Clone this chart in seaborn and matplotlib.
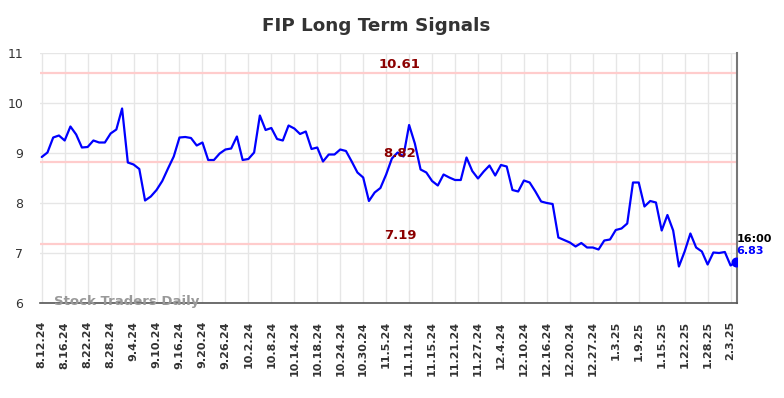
import matplotlib
matplotlib.use("Agg")
import matplotlib.pyplot as plt
import seaborn as sns
import numpy as np
import pandas as pd

# ---- data ----
tick_labels = ["8.12.24", "8.16.24", "8.22.24", "8.28.24", "9.4.24", "9.10.24", "9.16.24",
               "9.20.24", "9.26.24", "10.2.24", "10.8.24", "10.14.24", "10.18.24", "10.24.24",
               "10.30.24", "11.5.24", "11.11.24", "11.15.24", "11.21.24", "11.27.24", "12.4.24",
               "12.10.24", "12.16.24", "12.20.24", "12.27.24", "1.3.25", "1.9.25", "1.15.25",
               "1.22.25", "1.28.25", "2.3.25"]
tick_step = 4

prices = [8.92, 9.01, 9.31, 9.35, 9.25, 9.53, 9.37, 9.11, 9.12, 9.25, 9.21, 9.21, 9.39, 9.47,
          9.89, 8.81, 8.77, 8.68, 8.05, 8.13, 8.26,
          8.44, 8.69, 8.93, 9.31, 9.32, 9.30, 9.15, 9.21, 8.86, 8.86, 8.99, 9.07, 9.09, 9.33,
          8.86, 8.88, 9.01, 9.75, 9.46, 9.50,
          9.28, 9.25, 9.55, 9.49, 9.38, 9.43, 9.08, 9.11, 8.83, 8.97, 8.97, 9.07, 9.04, 8.83,
          8.61, 8.51, 8.04, 8.21, 8.30, 8.57,
          8.89, 9.01, 8.93, 9.56, 9.19, 8.67, 8.61, 8.44, 8.35, 8.57, 8.51, 8.46, 8.46, 8.91,
          8.64, 8.49, 8.63, 8.75, 8.55, 8.76, 8.73,
          8.26, 8.23, 8.45, 8.41, 8.23, 8.03, 8.00, 7.98, 7.31, 7.26, 7.21, 7.13, 7.20, 7.11,
          7.11, 7.07, 7.25, 7.27, 7.46, 7.49,
          7.59, 8.41, 8.41, 7.93, 8.04, 8.01, 7.45, 7.76, 7.45, 6.73, 7.03, 7.39, 7.11, 7.03,
          6.77, 7.01, 7.00, 7.02, 6.75, 6.83]

signal_levels = [10.61, 8.82, 7.19]
signal_labels = ["10.61", "8.82", "7.19"]
last_time = "16:00"
last_label = "6.83"
title = "FIP Long Term Signals"
watermark = "Stock Traders Daily"

df = pd.DataFrame({"idx": np.arange(len(prices)), "price": prices})

sns.set_style("whitegrid")
plt.rcParams["font.family"] = ["DejaVu Sans"]

fig = plt.figure(figsize=(7.84, 3.98), dpi=100)
ax = fig.add_axes([40 / 784, 95 / 398, 697 / 784, 250 / 398])

for lvl in signal_levels:
    ax.axhline(lvl, color="#ffcccc", linewidth=1.6, zorder=1)

sns.lineplot(data=df, x="idx", y="price", ax=ax, color="#0000ff", linewidth=1.6, zorder=3)

n = len(prices)
ax.scatter([df["idx"].iloc[-1]], [df["price"].iloc[-1]], s=38, color="#0000ff", zorder=4)

ax.set_xlim(-0.3, n - 1 + 0.12)
ax.set_ylim(6, 11)
ax.set_yticks([6, 7, 8, 9, 10, 11])
ax.set_xticks(np.arange(0, tick_step * len(tick_labels), tick_step))
ax.set_xticklabels(tick_labels, rotation=90, fontsize=8, fontweight="bold", color="#333333")
ax.tick_params(axis="y", labelsize=9, colors="#333333", pad=12, length=0)
ax.tick_params(axis="x", pad=13, length=0)
ax.set_xlabel("")
ax.set_ylabel("")
ax.grid(True, color="#e6e6e6", linewidth=1)

for s in ["top", "left"]:
    ax.spines[s].set_visible(False)
ax.spines["bottom"].set_color("#555555")
ax.spines["bottom"].set_linewidth(1.2)
ax.spines["right"].set_color("#777777")
ax.spines["right"].set_linewidth(1.5)

mid = 62.4
for lvl, lab in zip(signal_levels, signal_labels):
    ax.text(mid, lvl + 0.04, lab, ha="center", va="bottom", fontsize=9.5,
            fontweight="bold", color="#8b0000", zorder=5)

ax.annotate(last_time, xy=(n - 1, prices[-1]), xytext=(0, 16.5), textcoords="offset points",
            ha="left", va="center", fontsize=8, fontweight="bold", color="black")
ax.annotate(last_label, xy=(n - 1, prices[-1]), xytext=(0, 7.8), textcoords="offset points",
            ha="left", va="center", fontsize=8, fontweight="bold", color="#0000ff")

fig.text(54 / 784, 1 - 302 / 398, watermark, ha="left", va="center", fontsize=9.5,
         fontweight="bold", color="#999999", zorder=6)

fig.suptitle(title, x=376 / 784, y=1 - 26 / 398, va="center", fontsize=13.2, fontweight="bold",
             color="#333333")

fig.savefig("out.png", dpi=100)
